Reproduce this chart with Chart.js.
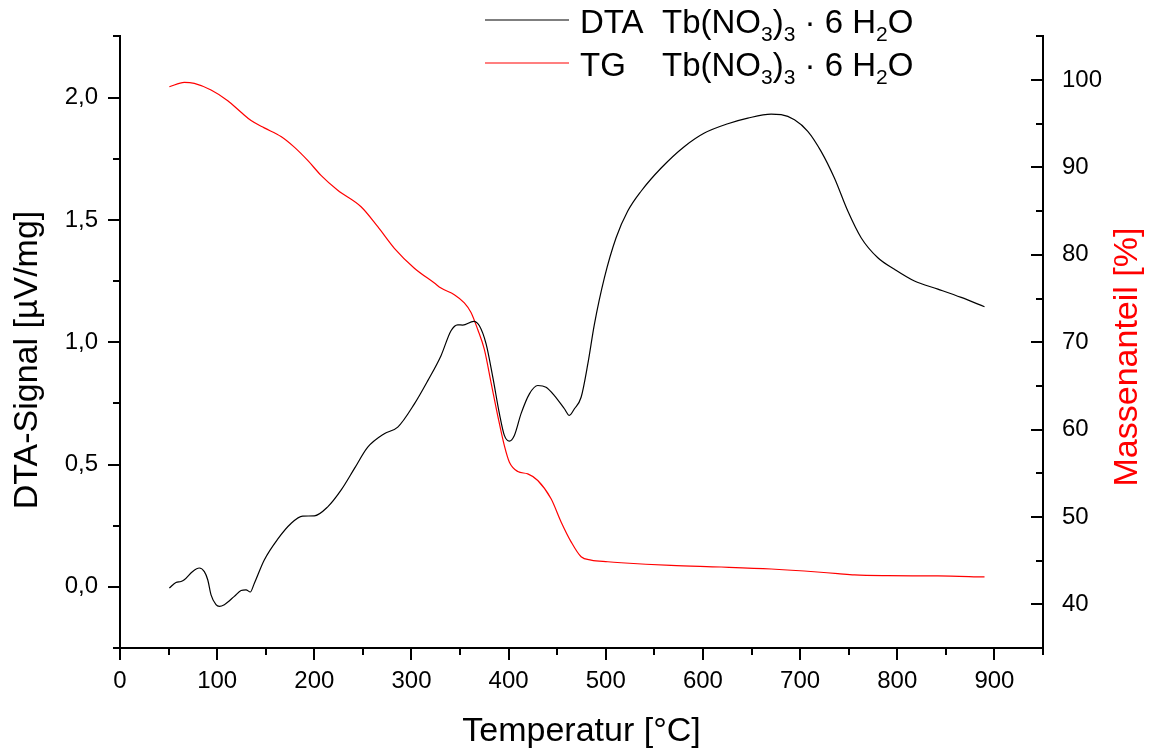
<!DOCTYPE html>
<html>
<head>
<meta charset="utf-8">
<script src="https://cdn.jsdelivr.net/npm/chart.js@4.4.1/dist/chart.umd.min.js"></script>
<style>
  html, body { margin: 0; padding: 0; background: #fff; }
  #wrap { width: 1150px; height: 749px; }
</style>
</head>
<body>
<div id="wrap"><canvas id="chart" width="1150" height="749"></canvas></div>
<script>
'use strict';

// DTA curve: temperature [°C] and signal [µV/mg]
const dtaTemp = [50.8, 57.6, 62.8, 66.2, 74.8, 81.6, 86.8, 90.3, 93.7, 98.8, 102.2, 107.4, 117.7, 124.6, 129.7, 134.1, 138.3, 148.5, 162.3, 176, 188, 200, 213.8, 227.5, 241.2, 255, 272, 285.9, 303, 316.8, 330.4, 340.7, 347.6, 352.8, 364, 369.9, 376.8, 383.7, 390.5, 395.6, 400.8, 405.9, 412.8, 421.4, 430, 438.5, 447.1, 457.4, 462.5, 467.7, 474.6, 481.5, 488.3, 498.6, 510.6, 522.6, 536.3, 557, 581, 601.5, 625.6, 646.2, 670.2, 680.5, 694.2, 707.9, 721.6, 735.3, 749.1, 762.8, 780, 797.1, 817.7, 841.8, 865.8, 889.8];
const dtaSignal = [-0.005, 0.018, 0.022, 0.029, 0.063, 0.077, 0.062, 0.029, -0.033, -0.073, -0.080, -0.073, -0.039, -0.015, -0.012, -0.021, 0.015, 0.110, 0.195, 0.259, 0.289, 0.290, 0.327, 0.395, 0.483, 0.571, 0.626, 0.653, 0.748, 0.843, 0.945, 1.047, 1.071, 1.070, 1.085, 1.067, 0.993, 0.857, 0.708, 0.619, 0.596, 0.619, 0.708, 0.789, 0.823, 0.816, 0.782, 0.728, 0.701, 0.728, 0.775, 0.911, 1.074, 1.264, 1.427, 1.536, 1.617, 1.712, 1.800, 1.855, 1.893, 1.916, 1.932, 1.930, 1.909, 1.862, 1.780, 1.671, 1.536, 1.427, 1.345, 1.298, 1.250, 1.217, 1.183, 1.145];

// TG curve: temperature [°C] and mass fraction [%]
const tgTemp = [50.8, 66.2, 76.5, 93.7, 110.9, 124.6, 134.9, 148.5, 165.7, 179.4, 193.2, 206.9, 224.1, 248.1, 265.3, 282.4, 303, 323.6, 330.4, 344.1, 354.4, 361.3, 368.2, 375, 381.9, 388.8, 395.6, 400.8, 409.4, 419.7, 430, 443.7, 454, 464.3, 474.6, 484.9, 502, 515.7, 567.2, 618.7, 670.2, 704.4, 738.8, 755.9, 790.3, 841.8, 889.8];
const tgMass = [99.24, 99.74, 99.62, 98.86, 97.64, 96.32, 95.37, 94.53, 93.54, 92.33, 90.81, 89.10, 87.39, 85.50, 83.22, 80.75, 78.47, 76.77, 76.19, 75.43, 74.49, 73.40, 71.45, 69.17, 65.38, 61.58, 58.16, 56.26, 55.20, 54.93, 54.17, 52.08, 49.43, 47.15, 45.44, 45.06, 44.87, 44.76, 44.46, 44.27, 44.04, 43.81, 43.51, 43.36, 43.28, 43.25, 43.13];

// labelled (major) ticks
const xLabels = [0, 100, 200, 300, 400, 500, 600, 700, 800, 900];
const dtaLabels = [0, 0.5, 1, 1.5, 2];
const tgLabels = [40, 50, 60, 70, 80, 90, 100];

function toPoints(xs, ys) {
  let pts = [];
  for (let i = 0; i < xs.length; i++) {
    pts.push({ x: xs[i], y: ys[i] });
  }
  return pts;
}

function isIn(list, v) {
  return list.some(l => Math.abs(l - v) < 1e-6);
}

const FONT = 'Liberation Sans, Arial, sans-serif';
Chart.defaults.font.family = FONT;
Chart.defaults.color = '#000';

// ticks (long major / short minor), axis titles and legend with subscripts
const decoPlugin = {
  id: 'deco',
  afterDraw(chart) {
    const ctx = chart.ctx;
    const a = chart.chartArea;
    ctx.save();
    ctx.strokeStyle = '#000';
    ctx.lineWidth = 2;
    ctx.beginPath();
    const sx = chart.scales.x;
    sx.ticks.forEach(t => {
      const p = Math.round(sx.getPixelForValue(t.value));
      const len = t.label !== '' ? 12 : 7;
      ctx.moveTo(p, a.bottom); ctx.lineTo(p, a.bottom + len);
    });
    const sy = chart.scales.y;
    sy.ticks.forEach(t => {
      const p = Math.round(sy.getPixelForValue(t.value));
      const len = t.label !== '' ? 12 : 7;
      ctx.moveTo(a.left, p); ctx.lineTo(a.left - len, p);
    });
    const sy1 = chart.scales.y1;
    sy1.ticks.forEach(t => {
      const p = Math.round(sy1.getPixelForValue(t.value));
      const len = t.label !== '' ? 12 : 7;
      ctx.moveTo(a.right, p); ctx.lineTo(a.right - len, p);
    });
    ctx.stroke();

    // axis titles
    ctx.font = '34px ' + FONT;
    ctx.textBaseline = 'alphabetic';
    ctx.textAlign = 'center';
    ctx.fillStyle = '#000';
    ctx.fillText('Temperatur [°C]', (a.left + a.right) / 2, 741);

    ctx.save();
    ctx.translate(37, 360);
    ctx.rotate(-Math.PI / 2);
    ctx.fillText('DTA-Signal [µV/mg]', 0, 0);
    ctx.restore();

    ctx.save();
    ctx.translate(1137, 357);
    ctx.rotate(-Math.PI / 2);
    ctx.fillStyle = '#ff0000';
    ctx.fillText('Massenanteil [%]', 0, 0);
    ctx.restore();

    // legend
    const rows = [
      { name: 'DTA', color: '#000000', lineY: 20, base: 33 },
      { name: 'TG', color: '#ff0000', lineY: 63, base: 76 }
    ];
    const parts = [['Tb(NO', false], ['3', true], [')', false], ['3', true], [' · 6 H', false], ['2', true], ['O', false]];
    ctx.textAlign = 'left';
    rows.forEach(r => {
      ctx.strokeStyle = r.color;
      ctx.lineWidth = 1.2;
      ctx.beginPath();
      ctx.moveTo(485, r.lineY); ctx.lineTo(569, r.lineY);
      ctx.stroke();
      ctx.fillStyle = '#000';
      ctx.font = '33px ' + FONT;
      ctx.fillText(r.name, 580, r.base);
      let x = 662;
      parts.forEach(p => {
        ctx.font = (p[1] ? '21px ' : '33px ') + FONT;
        const y = p[1] ? r.base + 8 : r.base;
        ctx.fillText(p[0], x, y);
        x += ctx.measureText(p[0]).width;
      });
    });
    ctx.restore();
  }
};

let canvasElem = document.getElementById('chart');

new Chart(canvasElem, {
  type: 'line',
  data: {
    datasets: [
      {
        label: 'DTA Tb(NO3)3 · 6 H2O',
        data: toPoints(dtaTemp, dtaSignal),
        yAxisID: 'y',
        borderColor: '#000000',
        borderWidth: 1.2,
        pointRadius: 0,
        cubicInterpolationMode: 'monotone'
      },
      {
        label: 'TG Tb(NO3)3 · 6 H2O',
        data: toPoints(tgTemp, tgMass),
        yAxisID: 'y1',
        borderColor: '#ff0000',
        borderWidth: 1.2,
        pointRadius: 0,
        cubicInterpolationMode: 'monotone'
      }
    ]
  },
  options: {
    responsive: false,
    animation: false,
    devicePixelRatio: 1,
    layout: { padding: { top: 35, left: 0, right: 0, bottom: 0 } },
    plugins: {
      legend: { display: false },
      tooltip: { enabled: false }
    },
    scales: {
      x: {
        type: 'linear',
        min: 0,
        max: 950,
        grid: { display: false, drawTicks: false },
        border: { display: true, color: '#000', width: 2 },
        ticks: {
          stepSize: 50,
          autoSkip: false,
          maxRotation: 0,
          padding: 19,
          font: { size: 24 },
          callback: v => isIn(xLabels, v) ? String(v) : ''
        },
        afterFit: s => { s.height = 101; }
      },
      y: {
        type: 'linear',
        position: 'left',
        min: -0.25,
        max: 2.25,
        grid: { display: false, drawTicks: false },
        border: { display: true, color: '#000', width: 2 },
        ticks: {
          stepSize: 0.25,
          autoSkip: false,
          padding: 22,
          font: { size: 24 },
          callback: v => isIn(dtaLabels, v) ? v.toFixed(1).replace('.', ',') : ''
        },
        afterFit: s => { s.width = 120; }
      },
      y1: {
        type: 'linear',
        position: 'right',
        min: 35,
        max: 105,
        grid: { display: false, drawTicks: false },
        border: { display: true, color: '#000', width: 2 },
        ticks: {
          stepSize: 5,
          autoSkip: false,
          padding: 19,
          font: { size: 24 },
          callback: v => isIn(tgLabels, v) ? String(v) : ''
        },
        afterFit: s => { s.width = 107; }
      }
    }
  },
  plugins: [decoPlugin]
});
</script>
</body>
</html>
